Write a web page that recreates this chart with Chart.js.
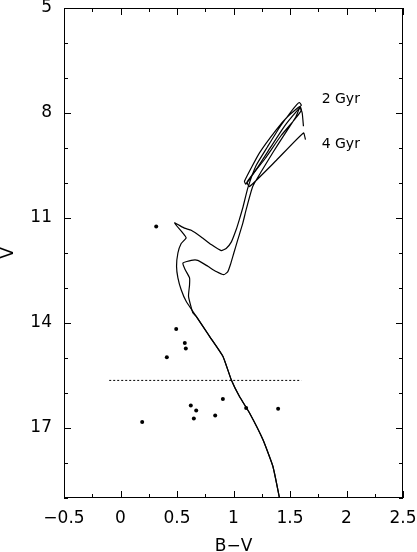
<!DOCTYPE html>
<html>
<head>
<meta charset="utf-8">
<script src="https://cdn.jsdelivr.net/npm/chart.js@4/dist/chart.umd.min.js"></script>
<style>
  html, body { margin: 0; padding: 0; background: #fff; }
  #wrap { width: 417px; height: 552px; }
</style>
</head>
<body>
<div id="wrap"><canvas id="cmd"></canvas></div>
<script>
// isochrone 2 Gyr (B-V, V), main sequence upwards
var iso2Bv = [1.407, 1.349, 1.26, 1.142, 1.053, 0.98, 0.906, 0.788, 0.670, 0.581, 0.537, 0.508, 0.496, 0.508, 0.537, 0.581, 0.552, 0.478,
    0.566, 0.626, 0.714, 0.803, 0.891, 0.935, 0.98, 1.024, 1.053, 1.083, 1.127,
    1.2, 1.3, 1.4, 1.5, 1.56, 1.584, 1.6, 1.57, 1.48, 1.378, 1.23, 1.097,
    1.11, 1.2, 1.32, 1.45, 1.55, 1.59, 1.608, 1.619];
var iso2V = [19.0, 18.10, 17.33, 16.57, 16.10, 15.62, 14.95, 14.38, 13.81, 13.38, 13.05, 12.71, 12.38, 12.0, 11.73, 11.57, 11.43, 11.14,
    11.29, 11.35, 11.54, 11.76, 11.93, 11.87, 11.69, 11.33, 11.03, 10.7, 10.14,
    9.5, 8.97, 8.45, 8.0, 7.76, 7.70, 7.78, 7.85, 8.1, 8.48, 9.14, 9.95,
    10.03, 9.62, 9.02, 8.38, 7.98, 7.86, 8.0, 8.38];

// isochrone 4 Gyr
var iso4Bv = [1.407, 1.349, 1.26, 1.142, 1.053, 0.98, 0.906, 0.788, 0.670, 0.640, 0.602, 0.611, 0.611, 0.573, 0.552,
    0.626, 0.684, 0.773, 0.847, 0.915, 0.950, 0.973, 1.003, 1.038, 1.083, 1.112, 1.17,
    1.25, 1.35, 1.45, 1.55, 1.59, 1.6, 1.55, 1.42, 1.28, 1.12,
    1.142, 1.38, 1.619, 1.637];
var iso4V = [19.0, 18.10, 17.33, 16.57, 16.10, 15.62, 14.95, 14.38, 13.81, 13.71, 13.24, 12.91, 12.71, 12.48, 12.29,
    12.21, 12.21, 12.38, 12.53, 12.62, 12.53, 12.33, 12.0, 11.62, 11.14, 10.76, 10.1,
    9.65, 9.12, 8.62, 8.12, 7.82, 7.92, 8.15, 8.65, 9.3, 9.97,
    10.1, 9.35, 8.57, 8.76];

// observed stars
var starBv = [0.316, 0.493, 0.569, 0.578, 0.410, 0.906, 0.622, 0.670, 0.649, 0.838, 1.112, 1.395, 0.192];
var starV = [11.24, 14.17, 14.57, 14.73, 14.98, 16.17, 16.36, 16.50, 16.73, 16.64, 16.43, 16.45, 16.83];

// magnitude limit line
var limitBv = [-0.10, 1.60];
var limitV = [15.64, 15.64];

// age labels
var ageLabels = ['2 Gyr', '4 Gyr'];
var ageBv = [1.78, 1.78];
var ageV = [7.62, 8.91];

var yTickValues = [5, 8, 11, 14, 17];

function zip(xs, ys) {
    return xs.map(function (x, i) { return { x: x, y: ys[i] }; });
}

var fontFamily = "'DejaVu Sans', sans-serif";

// inward ticks, frame and age labels
var framePlugin = {
    id: 'frame',
    afterDraw: function (chart) {
        var ctx = chart.ctx, a = chart.chartArea;
        var xs = chart.scales.x, ys = chart.scales.y;
        ctx.save();
        ctx.strokeStyle = '#000';
        ctx.lineWidth = 1;
        ctx.strokeRect(a.left + 0.5, a.top + 0.5, a.right - a.left - 1, a.bottom - a.top - 1);
        ctx.beginPath();
        for (var v = -0.5; v <= 2.5001; v += 0.25) {
            var px = Math.round(xs.getPixelForValue(v)) + 0.5;
            var len = (Math.abs(v * 2 - Math.round(v * 2)) < 1e-6) ? 7 : 4;
            ctx.moveTo(px, a.bottom); ctx.lineTo(px, a.bottom - len);
            ctx.moveTo(px, a.top); ctx.lineTo(px, a.top + len);
        }
        for (var m = 5; m <= 19; m++) {
            var py = Math.round(ys.getPixelForValue(m)) + 0.5;
            var l = ((m - 5) % 3 === 0) ? 7 : 4;
            ctx.moveTo(a.left, py); ctx.lineTo(a.left + l, py);
            ctx.moveTo(a.right, py); ctx.lineTo(a.right - l, py);
        }
        ctx.stroke();
        ctx.fillStyle = '#000';
        ctx.font = '14px ' + fontFamily;
        ctx.textAlign = 'left';
        ctx.textBaseline = 'middle';
        ageLabels.forEach(function (t, i) {
            ctx.fillText(t, xs.getPixelForValue(ageBv[i]), ys.getPixelForValue(ageV[i]));
        });
        ctx.restore();
    }
};

function noPad(s) {
    s.paddingLeft = 0; s.paddingRight = 0; s.paddingTop = 0; s.paddingBottom = 0;
}

new Chart(document.getElementById('cmd'), {
    type: 'scatter',
    data: {
        datasets: [
            { data: zip(iso2Bv, iso2V), showLine: true, borderColor: '#000', borderWidth: 1.2, pointRadius: 0, tension: 0.15, fill: false },
            { data: zip(iso4Bv, iso4V), showLine: true, borderColor: '#000', borderWidth: 1.2, pointRadius: 0, tension: 0.15, fill: false },
            { data: zip(limitBv, limitV), showLine: true, borderColor: '#000', borderWidth: 1, borderDash: [2, 2], pointRadius: 0 },
            { data: zip(starBv, starV), backgroundColor: '#000', borderColor: '#000', pointRadius: 2, borderWidth: 0 }
        ]
    },
    options: {
        responsive: true,
        maintainAspectRatio: false,
        animation: false,
        events: [],
        layout: { padding: { top: 8, right: 14, left: 0, bottom: 0 } },
        plugins: { legend: { display: false }, tooltip: { enabled: false } },
        scales: {
            x: {
                type: 'linear', min: -0.5, max: 2.5,
                grid: { display: false, drawTicks: false },
                border: { display: false },
                ticks: {
                    stepSize: 0.5, padding: 10, color: '#000',
                    font: { family: fontFamily, size: 17 },
                    callback: function (v) { return String(v).replace('-', '\u2212'); }
                },
                title: { display: true, text: 'B\u2212V', color: '#000', font: { family: fontFamily, size: 17, lineHeight: 1 }, padding: { top: 0, bottom: -3 } },
                afterFit: function (s) { s.height = 54; noPad(s); }
            },
            y: {
                type: 'linear', min: 5, max: 19, reverse: true,
                grid: { display: false, drawTicks: false },
                border: { display: false },
                afterBuildTicks: function (s) { s.ticks = yTickValues.map(function (v) { return { value: v }; }); },
                ticks: { padding: 12, color: '#000', font: { family: fontFamily, size: 17 } },
                title: { display: true, text: 'V', color: '#000', font: { family: fontFamily, size: 17, lineHeight: 1 }, padding: { top: 0, bottom: 0 } },
                afterFit: function (s) { s.width = 64; noPad(s); }
            }
        }
    },
    plugins: [framePlugin]
});
</script>
</body>
</html>
